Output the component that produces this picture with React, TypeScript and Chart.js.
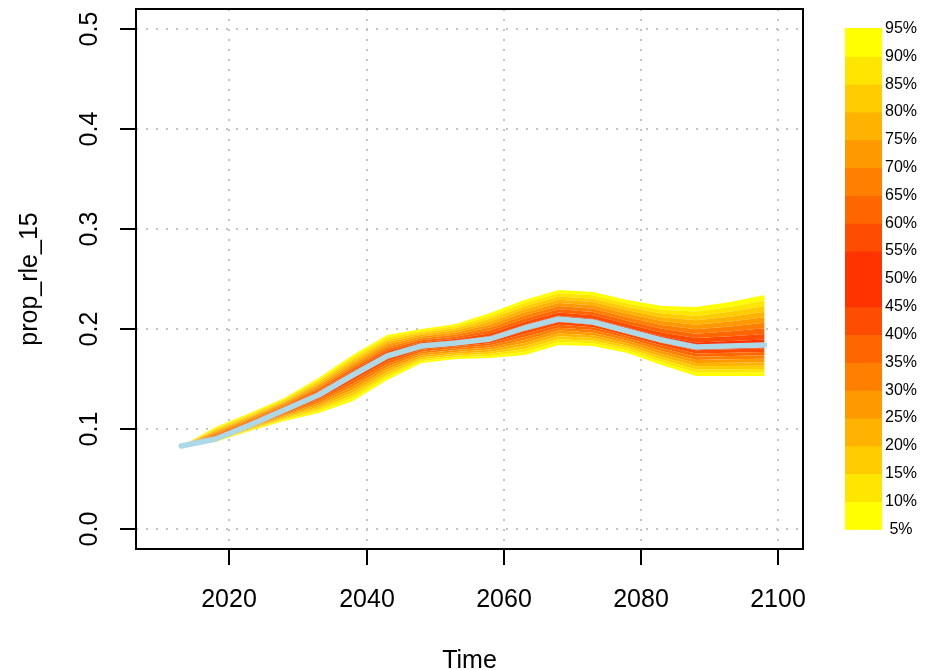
import React, { useEffect, useRef } from "react";
import { Chart, registerables } from "chart.js";

Chart.register(...registerables);

// ---- data ----
const years = [2013, 2018, 2023, 2028, 2033, 2038, 2043, 2048, 2053, 2058, 2063, 2068, 2073, 2078, 2083, 2088, 2093, 2098];

const q05 = [0.083, 0.087, 0.098, 0.108, 0.116, 0.128, 0.149, 0.166, 0.170, 0.171, 0.174, 0.184, 0.183, 0.176, 0.164, 0.153, 0.153, 0.153];
const q10 = [0.083, 0.0873, 0.0987, 0.1092, 0.1180, 0.1309, 0.1517, 0.1679, 0.1718, 0.1731, 0.1770, 0.1869, 0.1857, 0.1784, 0.1668, 0.1562, 0.1563, 0.1564];
const q15 = [0.083, 0.0877, 0.0993, 0.1104, 0.1200, 0.1338, 0.1543, 0.1698, 0.1736, 0.1752, 0.1800, 0.1898, 0.1883, 0.1809, 0.1696, 0.1594, 0.1597, 0.1599];
const q20 = [0.083, 0.0880, 0.1000, 0.1117, 0.1220, 0.1367, 0.1570, 0.1717, 0.1753, 0.1773, 0.1830, 0.1927, 0.1910, 0.1833, 0.1723, 0.1627, 0.1630, 0.1633];
const q25 = [0.083, 0.0883, 0.1007, 0.1129, 0.1240, 0.1396, 0.1597, 0.1736, 0.1771, 0.1794, 0.1860, 0.1956, 0.1937, 0.1858, 0.1751, 0.1659, 0.1663, 0.1668];
const q30 = [0.083, 0.0887, 0.1013, 0.1141, 0.1260, 0.1424, 0.1623, 0.1754, 0.1789, 0.1816, 0.1890, 0.1984, 0.1963, 0.1882, 0.1779, 0.1691, 0.1697, 0.1702];
const q35 = [0.083, 0.0890, 0.1020, 0.1153, 0.1280, 0.1453, 0.1650, 0.1773, 0.1807, 0.1837, 0.1920, 0.2013, 0.1990, 0.1907, 0.1807, 0.1723, 0.1730, 0.1737];
const q40 = [0.083, 0.0893, 0.1027, 0.1166, 0.1300, 0.1482, 0.1677, 0.1792, 0.1824, 0.1858, 0.1950, 0.2042, 0.2017, 0.1931, 0.1834, 0.1756, 0.1763, 0.1771];
const q45 = [0.083, 0.0897, 0.1033, 0.1178, 0.1320, 0.1511, 0.1703, 0.1811, 0.1842, 0.1879, 0.1980, 0.2071, 0.2043, 0.1956, 0.1862, 0.1788, 0.1797, 0.1806];
const q50 = [0.083, 0.090, 0.104, 0.119, 0.134, 0.154, 0.173, 0.183, 0.186, 0.190, 0.201, 0.210, 0.207, 0.198, 0.189, 0.182, 0.183, 0.184];
const q55 = [0.083, 0.0913, 0.1053, 0.1203, 0.1359, 0.1562, 0.1753, 0.1849, 0.1881, 0.1929, 0.2041, 0.2132, 0.2103, 0.2014, 0.1928, 0.1864, 0.1879, 0.1896];
const q60 = [0.083, 0.0927, 0.1067, 0.1217, 0.1378, 0.1584, 0.1777, 0.1868, 0.1902, 0.1958, 0.2072, 0.2164, 0.2137, 0.2049, 0.1966, 0.1909, 0.1928, 0.1951];
const q65 = [0.083, 0.0940, 0.1080, 0.1230, 0.1397, 0.1607, 0.1800, 0.1887, 0.1923, 0.1987, 0.2103, 0.2197, 0.2170, 0.2083, 0.2003, 0.1953, 0.1977, 0.2007];
const q70 = [0.083, 0.0953, 0.1093, 0.1243, 0.1416, 0.1629, 0.1823, 0.1906, 0.1944, 0.2016, 0.2134, 0.2229, 0.2203, 0.2118, 0.2041, 0.1998, 0.2026, 0.2062];
const q75 = [0.083, 0.0967, 0.1107, 0.1257, 0.1434, 0.1651, 0.1847, 0.1924, 0.1966, 0.2044, 0.2166, 0.2261, 0.2237, 0.2152, 0.2079, 0.2042, 0.2074, 0.2118];
const q80 = [0.083, 0.0980, 0.1120, 0.1270, 0.1453, 0.1673, 0.1870, 0.1943, 0.1987, 0.2073, 0.2197, 0.2293, 0.2270, 0.2187, 0.2117, 0.2087, 0.2123, 0.2173];
const q85 = [0.083, 0.0993, 0.1133, 0.1283, 0.1472, 0.1696, 0.1893, 0.1962, 0.2008, 0.2102, 0.2228, 0.2326, 0.2303, 0.2221, 0.2154, 0.2131, 0.2172, 0.2229];
const q90 = [0.083, 0.1007, 0.1147, 0.1297, 0.1491, 0.1718, 0.1917, 0.1981, 0.2029, 0.2131, 0.2259, 0.2358, 0.2337, 0.2256, 0.2192, 0.2176, 0.2221, 0.2284];
const q95 = [0.083, 0.102, 0.116, 0.131, 0.151, 0.174, 0.194, 0.200, 0.205, 0.216, 0.229, 0.239, 0.237, 0.229, 0.223, 0.222, 0.227, 0.234];

const median = q50;

const quantiles = [q05, q10, q15, q20, q25, q30, q35, q40, q45, q50, q55, q60, q65, q70, q75, q80, q85, q90, q95];
const quantileLabels = ["5%", "10%", "15%", "20%", "25%", "30%", "35%", "40%", "45%", "50%", "55%", "60%", "65%", "70%", "75%", "80%", "85%", "90%", "95%"];

// outermost (yellow) to innermost (red)
const bandColors = ["#FFFF00", "#FFE600", "#FFCC00", "#FFB300", "#FF9900", "#FF8000", "#FF6600", "#FF4D00", "#FF3300"];
const medianColor = "#ADD8E6";

const xTicks = [2020, 2040, 2060, 2080, 2100];
const xTickLabels = ["2020", "2040", "2060", "2080", "2100"];
const yTicks = [0, 0.1, 0.2, 0.3, 0.4, 0.5];
const yTickLabels = ["0.0", "0.1", "0.2", "0.3", "0.4", "0.5"];
const xTitle = "Time";
const yTitle = "prop_rle_15";

const FONT = '"Liberation Sans", Arial, sans-serif';

function bandColor(b: number) {
  // b: band index 0..17 (between quantile b and b+1)
  const n = bandColors.length;
  return b < n ? bandColors[b] : bandColors[2 * n - 1 - b];
}

const decorPlugin = {
  id: "decor",
  afterDraw(chart: any) {
    const { ctx, chartArea: a, scales } = chart;
    const xs = scales.x;
    const ys = scales.y;
    ctx.save();
    ctx.strokeStyle = "#000";
    ctx.fillStyle = "#000";
    ctx.lineWidth = 2;
    // box
    ctx.strokeRect(a.left, a.top, a.right - a.left, a.bottom - a.top);

    // y ticks and labels
    ctx.font = `25px ${FONT}`;
    ctx.textAlign = "center";
    ctx.textBaseline = "alphabetic";
    yTicks.forEach((v, i) => {
      const py = Math.round(ys.getPixelForValue(v));
      ctx.beginPath();
      ctx.moveTo(a.left - 16, py);
      ctx.lineTo(a.left, py);
      ctx.stroke();
      ctx.save();
      ctx.translate(97, py);
      ctx.rotate(-Math.PI / 2);
      ctx.fillText(yTickLabels[i], 0, 0);
      ctx.restore();
    });

    // x ticks and labels
    xTicks.forEach((v, i) => {
      const px = Math.round(xs.getPixelForValue(v));
      ctx.beginPath();
      ctx.moveTo(px, a.bottom);
      ctx.lineTo(px, a.bottom + 16);
      ctx.stroke();
      ctx.fillText(xTickLabels[i], px, 606.5);
    });

    // axis titles
    ctx.fillText(xTitle, (a.left + a.right) / 2, 668);
    ctx.save();
    ctx.translate(36.5, (a.top + a.bottom) / 2);
    ctx.rotate(-Math.PI / 2);
    ctx.fillText(yTitle, 0, 0);
    ctx.restore();

    // colour key
    const barL = 845;
    const barR = 882;
    const barTop = 28.5;
    const barBot = 529.3;
    const nb = quantileLabels.length - 1;
    const h = (barBot - barTop) / nb;
    for (let b = 0; b < nb; b++) {
      ctx.fillStyle = bandColor(b);
      const yb = barBot - b * h;
      ctx.fillRect(barL, yb - h - 0.5, barR - barL, h + 1);
    }
    ctx.fillStyle = "#000";
    ctx.font = `16px ${FONT}`;
    ctx.textAlign = "center";
    ctx.textBaseline = "middle";
    quantileLabels.forEach((lab, k) => {
      ctx.fillText(lab, 901, barBot - k * h);
    });
    ctx.restore();
  },
};

export default function App() {
  const ref = useRef<HTMLCanvasElement | null>(null);

  useEffect(() => {
    if (!ref.current) return;
    const datasets: any[] = quantiles.map((q, k) => ({
      label: quantileLabels[k],
      data: years.map((yr, i) => ({ x: yr, y: q[i] })),
      borderWidth: 0,
      pointRadius: 0,
      fill: k === 0 ? false : "-1",
      backgroundColor: k === 0 ? "rgba(0,0,0,0)" : bandColor(k - 1),
      tension: 0,
      order: 2,
    }));
    datasets.push({
      label: "median",
      data: years.map((yr, i) => ({ x: yr, y: median[i] })),
      borderColor: medianColor,
      borderWidth: 5.5,
      borderCapStyle: "round",
      borderJoinStyle: "round",
      pointRadius: 0,
      fill: false,
      tension: 0,
      order: 0,
    });

    const gridCommon = {
      color: "#c4c4c4",
      lineWidth: 2,
      drawTicks: false,
    };

    const chart = new Chart(ref.current, {
      type: "line",
      data: { datasets },
      options: {
        animation: false,
        responsive: false,
        devicePixelRatio: 1,
        layout: { padding: { left: 136, top: 9, right: 129, bottom: 121 } },
        plugins: { legend: { display: false }, tooltip: { enabled: false } },
        scales: {
          x: {
            type: "linear",
            min: 2006.4,
            max: 2103.6,
            afterBuildTicks: (s: any) => {
              s.ticks = xTicks.map((v) => ({ value: v }));
            },
            afterFit: (s: any) => {
              s.height = 0;
            },
            ticks: { display: false },
            grid: gridCommon,
            border: { display: false, dash: [2, 8] },
          },
          y: {
            type: "linear",
            min: -0.02,
            max: 0.52,
            afterBuildTicks: (s: any) => {
              s.ticks = yTicks.map((v) => ({ value: v }));
            },
            afterFit: (s: any) => {
              s.width = 0;
            },
            ticks: { display: false },
            grid: gridCommon,
            border: { display: false, dash: [2, 8] },
          },
        },
      } as any,
      plugins: [decorPlugin],
    });
    return () => chart.destroy();
  }, []);

  return (
    <div style={{ position: "absolute", left: 0, top: 0, width: 932, height: 670, background: "#fff" }}>
      <canvas ref={ref} width={932} height={670} style={{ width: 932, height: 670, display: "block" }} />
    </div>
  );
}
